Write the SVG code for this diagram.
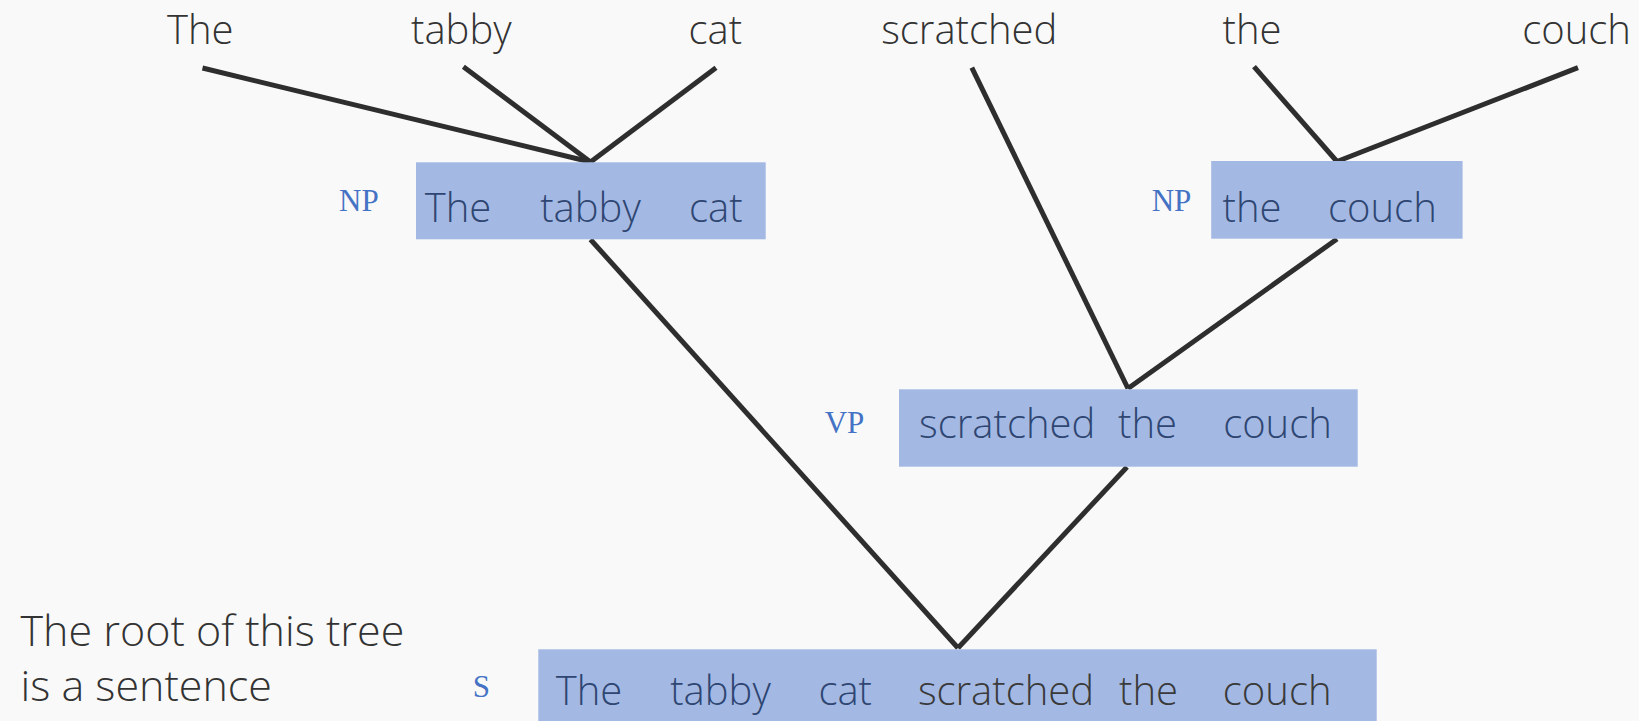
<svg xmlns="http://www.w3.org/2000/svg" width="1639" height="721" viewBox="0 0 1639 721">
  <style>
    .word { font-family: "Open Sans", "Liberation Sans", sans-serif; font-weight: 300; font-size: 40px; fill: #333333; text-anchor: middle; }
    .note { font-family: "Open Sans", "Liberation Sans", sans-serif; font-weight: 300; font-size: 43px; fill: #333333; }
    .inbox { fill: #2f4672; }
    .gray { fill: #3a3a3a; }
    .tag { font-family: "Liberation Serif", "Times New Roman", serif; font-size: 31px; fill: #4472c4; text-anchor: middle; }
    .box { fill: #a3b9e4; }
    .edge { stroke: #2e2e2e; stroke-width: 5; fill: none; stroke-linecap: butt; }
  </style>
  <rect x="0" y="0" width="1639" height="721" fill="#f9f9f9"/>

  <!-- leaf words -->
  <g id="leaves">
    <text class="word" x="200.3" y="43.5">The</text>
    <text class="word" x="461.3" y="43.5">tabby</text>
    <text class="word" x="715.3" y="43.5">cat</text>
    <text class="word" x="969.3" y="43.5">scratched</text>
    <text class="word" x="1252" y="43.5">the</text>
    <text class="word" x="1576.6" y="43.5">couch</text>
  </g>

  <!-- tree edges -->
  <g id="connectors">
    <line class="edge" x1="202.5" y1="68" x2="590.5" y2="162"/>
    <line class="edge" x1="463.4" y1="66.7" x2="590.5" y2="162"/>
    <line class="edge" x1="716" y1="67.7" x2="590.5" y2="162"/>
    <line class="edge" x1="971.8" y1="67.7" x2="1128" y2="388.5"/>
    <line class="edge" x1="1254" y1="66.7" x2="1337" y2="161.5"/>
    <line class="edge" x1="1578" y1="67.7" x2="1337" y2="161.5"/>
    <line class="edge" x1="1337" y1="239" x2="1128" y2="388.5"/>
    <line class="edge" x1="590.5" y1="239.5" x2="958" y2="648"/>
    <line class="edge" x1="1127" y1="467" x2="958" y2="648"/>
  </g>

  <!-- NP: The tabby cat -->
  <g id="np-subject">
    <rect class="box" x="416" y="162.3" width="349.7" height="77"/>
    <text class="tag" x="358.9" y="210.7">NP</text>
    <text class="word inbox" x="458" y="221.7">The</text>
    <text class="word inbox" x="590.5" y="221.7">tabby</text>
    <text class="word inbox" x="715.8" y="221.7">cat</text>
  </g>

  <!-- NP: the couch -->
  <g id="np-object">
    <rect class="box" x="1211.2" y="161" width="251.4" height="77.7"/>
    <text class="tag" x="1171.5" y="210.7">NP</text>
    <text class="word inbox" x="1252" y="221.7">the</text>
    <text class="word inbox" x="1382.4" y="221.7">couch</text>
  </g>

  <!-- VP: scratched the couch -->
  <g id="vp">
    <rect class="box" x="899" y="389.3" width="458.7" height="77.4"/>
    <text class="tag" x="844.5" y="433.3">VP</text>
    <text class="word inbox" x="1007.2" y="438.3">scratched</text>
    <text class="word inbox" x="1147.5" y="438.3">the</text>
    <text class="word inbox" x="1277.5" y="438.3">couch</text>
  </g>

  <!-- S: the whole sentence -->
  <g id="s-root">
    <rect class="box" x="538.3" y="649.3" width="838.4" height="72"/>
    <text class="tag" x="481.3" y="696.7">S</text>
    <text class="word inbox" x="589" y="705">The</text>
    <text class="word inbox" x="720.5" y="705">tabby</text>
    <text class="word inbox" x="845.2" y="705">cat</text>
    <text class="word gray" x="1006" y="705">scratched</text>
    <text class="word gray" x="1148.5" y="705">the</text>
    <text class="word gray" x="1277.2" y="705">couch</text>
  </g>

  <!-- side note -->
  <g id="note">
    <text class="note" x="20.5" y="645.7">The root of this tree</text>
    <text class="note" x="20.5" y="700.7">is a sentence</text>
  </g>
</svg>
